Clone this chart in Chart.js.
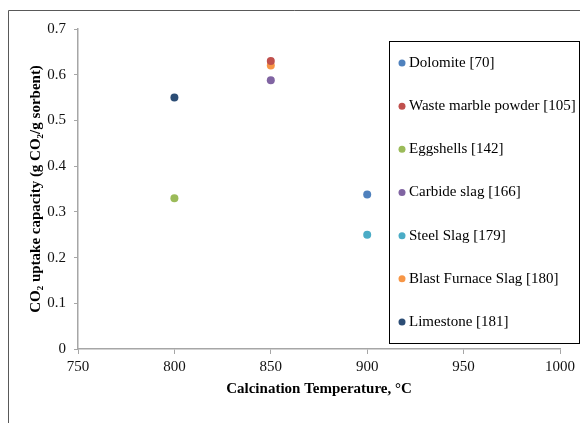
<!DOCTYPE html>
<html>
<head>
<meta charset="utf-8">
<script src="https://cdn.jsdelivr.net/npm/chart.js@4"></script>
<style>
  body { margin: 0; background: #fff; }
  canvas { display: block; }
</style>
</head>
<body>
<canvas id="chart" width="580" height="423"></canvas>
<script>
// sorbents, calcination temperature (°C) and CO2 uptake (g CO2/g sorbent)
const sorbents = [
  "Dolomite [70]",
  "Waste marble powder [105]",
  "Eggshells [142]",
  "Carbide slag [166]",
  "Steel Slag [179]",
  "Blast Furnace Slag [180]",
  "Limestone [181]"
];
const temperatures = [900, 850, 800, 850, 900, 850, 800];
const uptake = [0.338, 0.63, 0.33, 0.588, 0.25, 0.62, 0.55];
const xTicks = [750, 800, 850, 900, 950, 1000];
const yTicks = [0, 0.1, 0.2, 0.3, 0.4, 0.5, 0.6, 0.7];

const colors = ["#4F81BD", "#C0504D", "#9BBB59", "#8064A2", "#4BACC6", "#F79646", "#2C4D75"];
const serif = "'Liberation Serif', 'Times New Roman', serif";

const datasets = sorbents.map((name, i) => ({
  label: name,
  data: [{ x: temperatures[i], y: uptake[i] }],
  backgroundColor: colors[i],
  borderColor: colors[i],
  pointRadius: 4,
  pointHoverRadius: 4,
  borderWidth: 0
}));

// frame around the figure + boxed legend on the right
const framePlugin = {
  id: "frame",
  afterDraw(chart) {
    const ctx = chart.ctx;
    ctx.save();
    ctx.strokeStyle = "#595959";
    ctx.lineWidth = 1;
    ctx.beginPath();
    ctx.moveTo(8.5, 423);
    ctx.lineTo(8.5, 10.5);
    ctx.lineTo(580, 10.5);
    ctx.stroke();

    // legend
    const box = { left: 389.5, top: 41.5, right: 579.5, bottom: 343.5 };
    ctx.fillStyle = "#fff";
    ctx.fillRect(box.left, box.top, box.right - box.left, box.bottom - box.top);
    ctx.strokeStyle = "#000";
    ctx.strokeRect(box.left, box.top, box.right - box.left, box.bottom - box.top);
    ctx.font = "15px " + serif;
    ctx.textBaseline = "middle";
    const step = (box.bottom - box.top) / chart.data.datasets.length;
    chart.data.datasets.forEach((ds, i) => {
      const y = box.top + step * (i + 0.5);
      ctx.fillStyle = ds.backgroundColor;
      ctx.beginPath();
      ctx.arc(402, y, 3.5, 0, Math.PI * 2);
      ctx.fill();
      ctx.fillStyle = "#000";
      ctx.fillText(ds.label, 409, y);
    });
    ctx.restore();
  }
};

new Chart(document.getElementById("chart"), {
  type: "scatter",
  data: { datasets },
  plugins: [framePlugin],
  options: {
    responsive: false,
    animation: false,
    layout: { padding: { top: 29, right: 20, left: 0, bottom: 0 } },
    plugins: {
      legend: { display: false },
      tooltip: { enabled: false }
    },
    scales: {
      x: {
        type: "linear",
        min: 750,
        max: 1000,
        afterBuildTicks: s => { s.ticks = xTicks.map(v => ({ value: v })); },
        afterFit: s => { s.height = 74; },
        grid: { drawOnChartArea: false, color: "#A6A6A6", tickLength: 5 },
        border: { color: "#A6A6A6", width: 1.5 },
        ticks: { color: "#111", padding: 4, font: { family: serif, size: 15 }, callback: v => String(v) },
        title: {
          display: true,
          text: "Calcination Temperature, °C",
          color: "#000",
          font: { family: serif, size: 15, weight: "bold" },
          padding: { top: 0, bottom: 25 }
        }
      },
      y: {
        min: 0,
        max: 0.7,
        afterBuildTicks: s => { s.ticks = yTicks.map(v => ({ value: v })); },
        afterFit: s => { s.width = 78; },
        grid: { drawOnChartArea: false, color: "#A6A6A6", tickLength: 4 },
        border: { color: "#A6A6A6", width: 1.5 },
        ticks: { color: "#111", padding: 8, font: { family: serif, size: 15 }, callback: v => String(v) },
        title: {
          display: true,
          text: "CO₂ uptake capacity (g CO₂/g sorbent)",
          color: "#000",
          font: { family: serif, size: 15, weight: "bold" },
          padding: { top: 27, bottom: 0 }
        }
      }
    }
  }
});
</script>
</body>
</html>
